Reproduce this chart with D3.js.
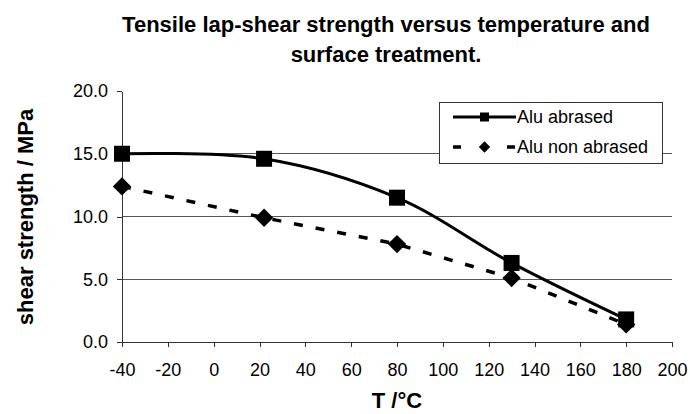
<!DOCTYPE html>
<html>
<head>
<meta charset="utf-8">
<script src="https://cdn.jsdelivr.net/npm/d3@7"></script>
<style>
  body { margin: 0; background: #fff; }
  text { font-family: "Liberation Sans", Arial, sans-serif; fill: #000; }
</style>
</head>
<body>
<svg id="chart" width="690" height="414"></svg>
<script>
// temperatures (°C) and strengths (MPa)
const temps = [-40, 22, 80, 130, 180];
const abraded = [15.0, 14.6, 11.5, 6.3, 1.8];
const nonAbraded = [12.4, 9.9, 7.8, 5.1, 1.4];
const xTicks = [-40, -20, 0, 20, 40, 60, 80, 100, 120, 140, 160, 180, 200];
const yTicks = [0, 5, 10, 15, 20];
const gridValues = [5, 10, 15];
const seriesNames = ['Alu abrased', 'Alu non abrased'];

function renderChart() {
  const svg = d3.select('#chart');
  const left = 122, right = 672, top = 91, bottom = 342;

  const x = d3.scaleLinear().domain([-40, 200]).range([left, right]);
  const y = d3.scaleLinear().domain([0, 20]).range([bottom, top]);

  // title
  svg.append('text')
    .attr('x', 386).attr('y', 32)
    .attr('text-anchor', 'middle')
    .attr('font-size', 22).attr('font-weight', 'bold')
    .text('Tensile lap-shear strength versus temperature and');
  svg.append('text')
    .attr('x', 386).attr('y', 62)
    .attr('text-anchor', 'middle')
    .attr('font-size', 22).attr('font-weight', 'bold')
    .text('surface treatment.');

  // gridlines
  svg.selectAll('.grid')
    .data(gridValues)
    .enter()
    .append('line')
    .attr('class', 'grid')
    .attr('x1', left).attr('x2', right)
    .attr('y1', d => y(d)).attr('y2', d => y(d))
    .attr('stroke', '#555')
    .attr('stroke-width', 1)
    .attr('shape-rendering', 'crispEdges');

  // axes
  const yAxis = svg.append('g')
    .attr('transform', `translate(${left},0)`)
    .call(d3.axisLeft(y).tickValues(yTicks).tickFormat(d3.format('.1f'))
      .tickSize(5).tickSizeOuter(0).tickPadding(9));
  const xAxis = svg.append('g')
    .attr('transform', `translate(0,${bottom})`)
    .call(d3.axisBottom(x).tickValues(xTicks).tickFormat(d => String(d))
      .tickSize(5).tickSizeOuter(0).tickPadding(16));
  [yAxis, xAxis].forEach(g => {
    g.selectAll('path, line').attr('stroke', '#333').attr('shape-rendering', 'crispEdges');
    g.selectAll('text')
      .attr('font-family', '"Liberation Sans", Arial, sans-serif')
      .attr('font-size', 18).attr('fill', '#000');
  });

  // axis titles
  svg.append('text')
    .attr('transform', 'translate(33,217) rotate(-90)')
    .attr('text-anchor', 'middle')
    .attr('font-size', 22).attr('font-weight', 'bold')
    .text('shear strength / MPa');
  svg.append('text')
    .attr('x', 397).attr('y', 408)
    .attr('text-anchor', 'middle')
    .attr('font-size', 22).attr('font-weight', 'bold')
    .text('T /°C');

  // lines
  const pts1 = temps.map((t, i) => [t, abraded[i]]);
  const pts2 = temps.map((t, i) => [t, nonAbraded[i]]);

  svg.append('path')
    .datum(pts2)
    .attr('fill', 'none').attr('stroke', '#000').attr('stroke-width', 3.5)
    .attr('stroke-dasharray', '9,13')
    .attr('d', d3.line().x(d => x(d[0])).y(d => y(d[1])));

  svg.append('path')
    .datum(pts1)
    .attr('fill', 'none').attr('stroke', '#000').attr('stroke-width', 3)
    .attr('d', d3.line().curve(d3.curveCatmullRom.alpha(0)).x(d => x(d[0])).y(d => y(d[1])));

  // markers
  svg.selectAll('.dia')
    .data(pts2)
    .enter()
    .append('rect')
    .attr('class', 'dia')
    .attr('x', -6.5).attr('y', -6.5).attr('width', 13).attr('height', 13)
    .attr('transform', d => `translate(${x(d[0])},${y(d[1])}) rotate(45)`)
    .attr('fill', '#000');

  svg.selectAll('.sq')
    .data(pts1)
    .enter()
    .append('rect')
    .attr('class', 'sq')
    .attr('x', d => x(d[0]) - 8).attr('y', d => y(d[1]) - 8)
    .attr('width', 16).attr('height', 16)
    .attr('fill', '#000');

  // legend
  const lg = svg.append('g');
  lg.append('rect')
    .attr('x', 439.5).attr('y', 102.5).attr('width', 223).attr('height', 61)
    .attr('fill', '#fff').attr('stroke', '#333').attr('stroke-width', 1);
  const rows = [117, 147];
  rows.forEach((ry, i) => {
    if (i === 0) {
      lg.append('line').attr('x1', 453).attr('x2', 516).attr('y1', ry).attr('y2', ry)
        .attr('stroke', '#000').attr('stroke-width', 3);
      lg.append('rect').attr('x', 480).attr('y', ry - 4.5).attr('width', 9).attr('height', 9)
        .attr('fill', '#000');
    } else {
      lg.append('line').attr('x1', 453).attr('x2', 516).attr('y1', ry).attr('y2', ry)
        .attr('stroke', '#000').attr('stroke-width', 3.5)
        .attr('stroke-dasharray', '8,46');
      lg.append('rect').attr('x', -4).attr('y', -4).attr('width', 8).attr('height', 8)
        .attr('transform', `translate(484.5,${ry}) rotate(45)`)
        .attr('fill', '#000');
    }
    lg.append('text')
      .attr('x', 517).attr('y', ry + 6)
      .attr('font-size', 18)
      .text(seriesNames[i]);
  });
}

renderChart();
</script>
</body>
</html>
